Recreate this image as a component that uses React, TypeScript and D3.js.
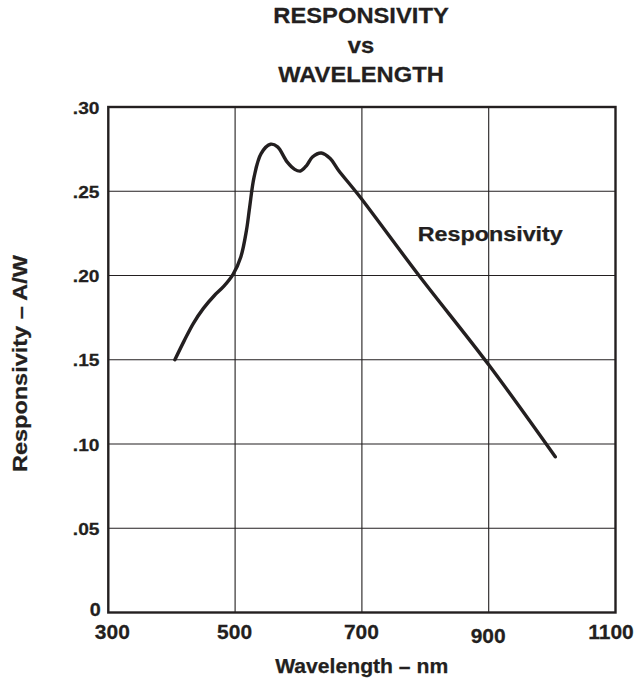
import React from "react";
import * as d3 from "d3";

const wavelength = [405, 420, 434, 450, 467, 482, 497, 509, 518, 523, 530, 541, 556, 567, 582, 594, 603, 613, 622, 636, 650, 663, 695, 790, 900, 1005];
const responsivity = [0.15, 0.1615, 0.1715, 0.1805, 0.188, 0.1935, 0.2008, 0.211, 0.227, 0.2407, 0.2585, 0.2724, 0.2779, 0.2763, 0.2674, 0.263, 0.262, 0.2654, 0.2703, 0.2727, 0.2694, 0.2625, 0.2476, 0.2, 0.147, 0.0924];

const xTicks = [300, 500, 700, 900, 1100];
const xTickLabels = ["300", "500", "700", "900", "1100"];
const yTicks = [0, 0.05, 0.1, 0.15, 0.2, 0.25, 0.3];
const yTickLabels = ["0", ".05", ".10", ".15", ".20", ".25", ".30"];
const titleLines = ["RESPONSIVITY", "vs", "WAVELENGTH"];
const xTitle = "Wavelength – nm";
const yTitle = "Responsivity – A/W";
const seriesLabel = "Responsivity";

const INK = "#231f20";
const FONT = "'Liberation Sans', Arial, Helvetica, sans-serif";

const W = 637, H = 683;
const L = 108.3, R = 615.5, T = 107, B = 612.5;

function Txt({ x, y, sx = 1, size, anchor = "middle", children, rotate = 0, len }: any) {
  return (
    <text
      transform={`translate(${x},${y}) rotate(${rotate}) scale(${sx},1)`}
      fontFamily={FONT}
      fontWeight="bold"
      fontSize={size}
      fill={INK}
      stroke={INK}
      strokeWidth={0.25}
      textAnchor={anchor}
      textLength={len}
      lengthAdjust={len ? "spacingAndGlyphs" : undefined}
    >
      {children}
    </text>
  );
}

export default function App() {
  const x = d3.scaleLinear().domain([300, 1100]).range([L, R]);
  const y = d3.scaleLinear().domain([0, 0.3]).range([B, T]);
  const pts: [number, number][] = wavelength.map((w, i) => [w, responsivity[i]]);
  const line = d3
    .line<[number, number]>()
    .x((d) => x(d[0]))
    .y((d) => y(d[1]))
    .curve(d3.curveCatmullRom.alpha(0.5));

  const titleY = [22.7, 52.7, 81.7];

  return (
    <svg width={W} height={H} style={{ position: "absolute", left: 0, top: 0 }}>
      <rect width={W} height={H} fill="#fff" />
      {/* grid */}
      {xTicks.slice(1, -1).map((t) => (
        <line key={"gx" + t} x1={x(t)} x2={x(t)} y1={T} y2={B} stroke={INK} strokeWidth={1.1} />
      ))}
      {yTicks.slice(1, -1).map((t) => (
        <line key={"gy" + t} x1={L} x2={R} y1={y(t)} y2={y(t)} stroke={INK} strokeWidth={1.1} />
      ))}
      <rect x={L} y={T} width={R - L} height={B - T} fill="none" stroke={INK} strokeWidth={2.4} />
      {/* curve */}
      <path d={line(pts) || ""} fill="none" stroke={INK} strokeWidth={3.4} strokeLinejoin="round" strokeLinecap="round" />
      {/* title */}
      {titleLines.map((s, i) => (
        <Txt key={s} x={361} y={titleY[i]} size={22} sx={1.08}>
          {s}
        </Txt>
      ))}
      {/* y ticks */}
      {yTicks.map((t, i) => (
        <Txt
          key={"yl" + t}
          x={t === 0 ? 100.7 : 99.5}
          y={y(t) + (t === 0 ? 3.8 : 6.5)}
          size={t === 0 ? 17.5 : 17}
          sx={1.13}
          anchor="end"
        >
          {yTickLabels[i]}
        </Txt>
      ))}
      {/* x ticks */}
      {xTicks.map((t, i) => {
        const dx = i === 0 ? 4 : i === xTicks.length - 1 ? -4.5 : -0.5;
        const dy = t === 900 ? 30.2 : t === 1100 ? 26 : 26.8;
        return (
          <Txt key={"xl" + t} x={x(t) + dx} y={B + dy} size={20} sx={1.05}>
            {xTickLabels[i]}
          </Txt>
        );
      })}
      {/* axis titles */}
      <Txt x={361.7} y={673.3} size={20.5} len={173}>
        {xTitle}
      </Txt>
      <Txt x={27.3} y={363.5} size={19.5} rotate={-90} len={217}>
        {yTitle}
      </Txt>
      {/* series label */}
      <Txt x={417.8} y={241.2} size={19.5} anchor="start" len={145}>
        {seriesLabel}
      </Txt>
    </svg>
  );
}
